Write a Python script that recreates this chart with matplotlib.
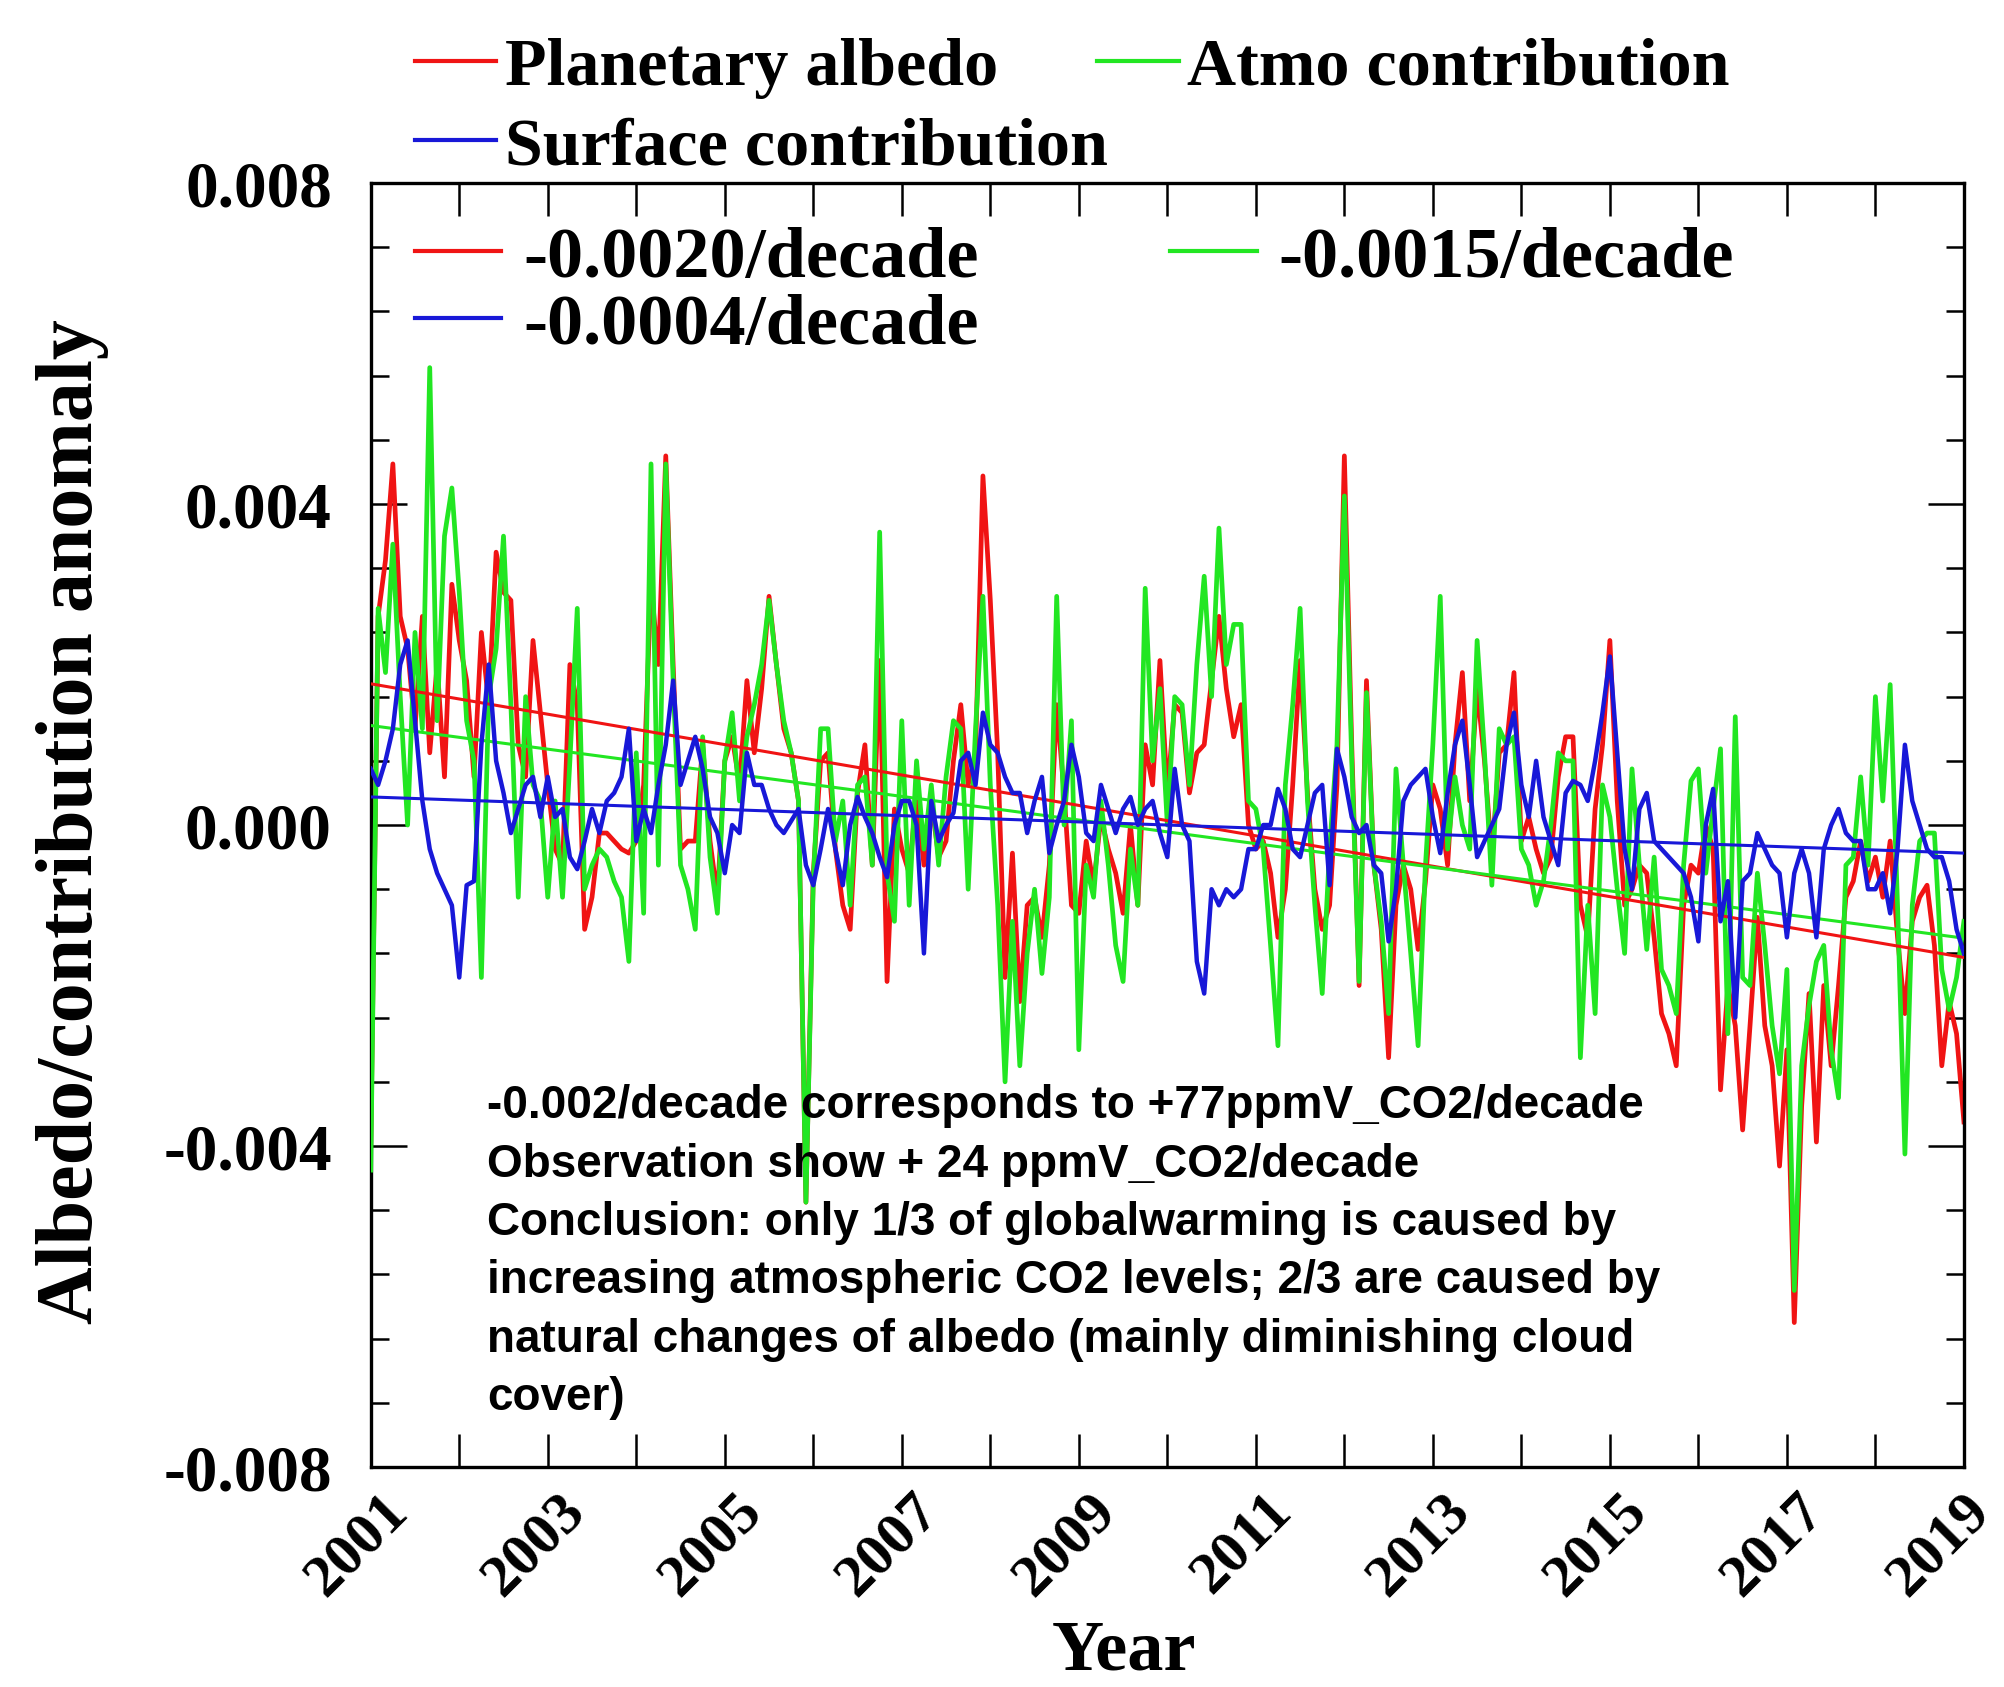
import numpy as np
import matplotlib
matplotlib.use('Agg')
import matplotlib.pyplot as plt
from matplotlib.ticker import MultipleLocator, FormatStrFormatter
from matplotlib.transforms import ScaledTranslation

# monthly anomalies, Jan 2001 .. Jan 2019, in units of 0.001
planetary = [
    -4.0, 2.6, 3.3, 4.5, 2.6, 2.2, 1.2, 2.6, 0.9, 2.0, 0.6, 3.0, 2.3, 1.8, 0.6, 2.4, 1.5, 3.4, 2.9, 2.8,
    1.0, 0.6, 2.3, 1.4, 0.5, -0.3, -0.5, 2.0, 1.5, -1.3,
    -0.9, -0.1, -0.1, -0.2, -0.3, -0.35, -0.2, 0.5, 3.0, 2.0, 4.6, 2.0, -0.3, -0.2, -0.2, 1.0, -0.2, -0.9,
    0.8, 1.1, 0.5, 1.8, 0.9, 1.7, 2.85, 2.0, 1.2, 0.9, 0.3, -4.7, -0.6, 0.8, 0.9,
    -0.3, -1.0, -1.3, 0.4, 1.0, -0.5, 2.05, -1.95, 0.2, -0.3, -0.6, 0.4, -0.5, 0.3, -0.4, -0.2, 0.8, 1.5,
    0.5, 0.9, 4.35, 2.8, 0.9, -1.9, -0.35, -2.2, -1.0, -0.9, -1.4, -0.5,
    1.5, 0.4, -1.0, -1.1, -0.2, -0.75, 0.1, -0.3, -0.6, -1.1, 0.0, -1.0, 1.0, 0.5, 2.05, 0.4, 1.5, 1.4,
    0.4, 0.9, 1.0, 1.8, 2.6, 1.7, 1.1, 1.5, 0.0, -0.3, -0.2, -0.6, -1.4, -0.8,
    0.5, 2.05, 0.4, -0.8, -1.3, -1.0, 0.5, 4.6, 1.0, -2.0, 1.8, -0.5, -1.3, -2.9, -1.0, -0.5, -0.8, -1.55,
    -0.7, 0.5, 0.2, -0.5, 1.0, 1.9, 0.3, 1.7, 0.8, -0.4, 0.9, 1.0, 1.9,
    -0.2, 0.1, -0.3, -0.6, -0.4, 0.6, 1.1, 1.1, -1.0, -1.4, 0.2, 1.0, 2.3, 0.3, -1.0, -0.8, -0.5, -0.6,
    -1.4, -2.35, -2.6, -3.0, -1.0, -0.5, -0.6, 0.0, -0.3, -3.3, -2.0, -2.5, -3.8,
    -2.5, -1.15, -2.5, -3.0, -4.25, -2.8, -6.2, -3.5, -2.1, -3.95, -2.0, -3.0, -2.0, -0.9, -0.7, -0.2,
    -0.7, -0.4, -0.9, -0.2, -1.4, -2.35, -1.2, -0.9, -0.75, -1.5, -3.0, -2.2, -2.6, -3.7,
]
atmo = [
    -4.3, 2.7, 1.9, 3.5, 1.6, 0.0, 2.4, 1.2, 5.7, 1.3, 3.6, 4.2, 2.9, 1.3, 0.8, -1.9, 1.6, 2.2, 3.6, 1.5,
    -0.9, 1.6, 0.5, 0.3, -0.9, 0.3, -0.9, 0.8, 2.7, -0.8,
    -0.5, -0.3, -0.4, -0.7, -0.9, -1.7, 0.9, -1.1, 4.5, -0.5, 4.5, 1.8, -0.5, -0.8, -1.3, 1.1, -0.4, -1.1,
    0.8, 1.4, 0.3, 1.1, 1.5, 2.0, 2.8, 2.0, 1.3, 0.9, 0.3, -4.7, -0.7, 1.2, 1.2,
    -0.2, 0.3, -1.0, 0.5, 0.6, -0.5, 3.65, -0.6, -1.2, 1.3, -1.0, 0.8, -0.3, 0.5, -0.5, 0.6, 1.3, 1.2,
    -0.8, 1.2, 2.85, 0.5, -1.0, -3.2, -1.2, -3.0, -1.6, -0.8, -1.85, -0.9,
    2.85, 0.0, 1.3, -2.8, -0.5, -0.9, 0.3, -0.5, -1.5, -1.95, -0.3, -1.0, 2.95, 0.8, 1.7, 0.0, 1.6, 1.5,
    0.5, 2.0, 3.1, 1.6, 3.7, 2.0, 2.5, 2.5, 0.3, 0.2, -0.3, -1.5, -2.75, 0.5,
    1.5, 2.7, 0.3, -1.0, -2.1, -0.3, 1.0, 4.1, 0.8, -1.95, 1.65, -0.5, -1.2, -2.35, 0.7, -0.5, -1.6, -2.75,
    -0.5, 1.0, 2.85, -0.3, 0.6, 0.0, -0.3, 2.3, 0.9, -0.75, 1.2, 1.0, 1.1,
    -0.3, -0.5, -1.0, -0.7, 0.0, 0.9, 0.8, 0.8, -2.9, -1.0, -2.35, 0.5, 0.1, -0.8, -1.6, 0.7, -0.5, -1.55,
    -0.4, -1.8, -2.0, -2.35, -0.5, 0.55, 0.7, -0.6, 0.2, 0.95, -2.6, 1.35, -1.9,
    -2.0, -0.6, -1.5, -2.5, -3.1, -1.8, -5.8, -3.0, -2.25, -1.7, -1.5, -2.8, -3.4, -0.5, -0.4, 0.6,
    -0.5, 1.6, 0.3, 1.75, -1.0, -4.1, -1.0, -0.2, -0.1, -0.1, -1.8, -2.3, -1.9, -1.2,
]
surface = [
    0.7, 0.5, 0.8, 1.2, 2.0, 2.3, 1.3, 0.3, -0.3, -0.6, -0.8, -1.0, -1.9, -0.75, -0.7, 1.0, 2.0, 0.8, 0.4,
    -0.1, 0.2, 0.5, 0.6, 0.1, 0.6, 0.1, 0.2, -0.4, -0.55, -0.2,
    0.2, -0.1, 0.3, 0.4, 0.6, 1.2, -0.2, 0.2, -0.1, 0.5, 1.0, 1.8, 0.5, 0.8, 1.1, 0.7, 0.1, -0.1, -0.6,
    0.0, -0.1, 0.9, 0.5, 0.5, 0.2, 0.0, -0.1, 0.05, 0.2, -0.5, -0.75, -0.3, 0.2,
    -0.3, -0.75, 0.0, 0.35, 0.1, -0.1, -0.4, -0.65, 0.0, 0.3, 0.3, 0.0, -1.6, 0.3, -0.2, 0.0, 0.15, 0.8,
    0.9, 0.5, 1.4, 1.0, 0.9, 0.6, 0.4, 0.4, -0.1, 0.3, 0.6, -0.35,
    0.0, 0.3, 1.0, 0.6, -0.1, -0.2, 0.5, 0.2, -0.1, 0.2, 0.35, 0.0, 0.2, 0.3, -0.1, -0.4, 0.7, 0.0, -0.2,
    -1.7, -2.1, -0.8, -1.0, -0.8, -0.9, -0.8, -0.3, -0.3, 0.0, 0.0, 0.45, 0.2,
    -0.3, -0.4, 0.0, 0.4, 0.5, -0.75, 0.95, 0.6, 0.1, -0.1, 0.0, -0.5, -0.6, -1.45, -0.8, 0.3, 0.5, 0.6,
    0.7, 0.1, -0.35, 0.4, 1.0, 1.3, 0.5, -0.4, -0.2, 0.0, 0.2, 1.0, 1.4,
    0.5, 0.1, 0.8, 0.1, -0.2, -0.5, 0.4, 0.55, 0.5, 0.3, 0.8, 1.4, 2.1, 0.9, -0.3, -0.8, 0.2, 0.4, -0.2,
    -0.3, -0.4, -0.5, -0.6, -0.9, -1.45, 0.0, 0.45, -1.2, -0.7, -2.4, -0.7,
    -0.6, -0.1, -0.3, -0.5, -0.6, -1.4, -0.6, -0.3, -0.6, -1.4, -0.3, 0.0, 0.2, -0.1, -0.2, -0.2, -0.8,
    -0.8, -0.6, -1.1, -0.3, 1.0, 0.3, 0.0, -0.3, -0.4, -0.4, -0.7, -1.3, -1.6,
]

# linear trends: value at 2001 and at 2019 (x 0.001)
trend_years = [2001, 2019]
planetary_trend = [1.76, -1.65]
atmo_trend = [1.24, -1.41]
surface_trend = [0.35, -0.35]

legend_labels = ['Planetary albedo', 'Atmo contribution', 'Surface contribution']
trend_labels = ['-0.0020/decade', '-0.0015/decade', '-0.0004/decade']
year_ticks = [2001, 2003, 2005, 2007, 2009, 2011, 2013, 2015, 2017, 2019]

note = ('-0.002/decade corresponds to +77ppmV_CO2/decade\n'
        'Observation show + 24 ppmV_CO2/decade\n'
        'Conclusion: only 1/3 of globalwarming is caused by\n'
        'increasing atmospheric CO2 levels; 2/3 are caused by\n'
        'natural changes of albedo (mainly diminishing cloud\n'
        'cover)')

RED = '#f01414'
GREEN = '#22e622'
BLUE = '#1818d8'

plt.rcParams['font.family'] = 'Liberation Serif'
plt.rcParams['font.weight'] = 'bold'
plt.rcParams['axes.labelweight'] = 'bold'
plt.rcParams['axes.unicode_minus'] = False

years = 2001 + np.arange(len(planetary)) / 12.0
scale = 0.001

fig = plt.figure(figsize=(20.04, 16.87), dpi=100)
ax = fig.add_axes([0.185, 0.1304, 0.795, 0.7611])

l_red, = ax.plot(years, np.array(planetary) * scale, color=RED, lw=3.4, zorder=2)
l_green, = ax.plot(years, np.array(atmo) * scale, color=GREEN, lw=3.4, zorder=3)
l_blue, = ax.plot(years, np.array(surface) * scale, color=BLUE, lw=3.2, zorder=5)

t_red, = ax.plot(trend_years, np.array(planetary_trend) * scale, color=RED, lw=2.2, zorder=4)
t_green, = ax.plot(trend_years, np.array(atmo_trend) * scale, color=GREEN, lw=2.2, zorder=4)
t_blue, = ax.plot(trend_years, np.array(surface_trend) * scale, color=BLUE, lw=2.2, zorder=6)

ax.set_xlim(2001, 2019)
ax.set_ylim(-0.008, 0.008)

ax.set_xticks(year_ticks)
ax.xaxis.set_minor_locator(MultipleLocator(1))
ax.yaxis.set_major_locator(MultipleLocator(0.004))
ax.yaxis.set_minor_locator(MultipleLocator(0.0008))
ax.yaxis.set_major_formatter(FormatStrFormatter('%.3f'))

ax.tick_params(axis='x', which='both', direction='in', top=True, length=24, width=1.8,
               labelsize=43, pad=12)
ax.tick_params(axis='y', which='major', direction='in', right=True, length=26, width=1.8,
               labelsize=47, pad=28)
ax.tick_params(axis='y', which='minor', direction='in', right=True, length=13, width=1.8)
xlabels = ax.get_xticklabels()
for i, lab in enumerate(xlabels):
    dx = -0.24 if i == len(xlabels) - 1 else -0.13
    lab.set_rotation(45)
    lab.set_ha('center')
    lab.set_va('top')
    lab.set_transform(lab.get_transform() + ScaledTranslation(dx, 0, fig.dpi_scale_trans))
for sp in ax.spines.values():
    sp.set_linewidth(2.4)

ax.set_xlabel('Year', fontsize=52)
ax.xaxis.set_label_coords(0.473, -0.119)
ax.set_ylabel('Albedo/contribution anomaly', fontsize=57.5)
ax.yaxis.set_label_coords(-0.164, 0.503)

# series legend above the axes
leg1 = ax.legend([l_red, l_blue, l_green],
                 [legend_labels[0], legend_labels[2], legend_labels[1]],
                 ncol=2, loc='upper left', bbox_to_anchor=(0.207, 0.978),
                 bbox_transform=fig.transFigure, frameon=False, fontsize=49,
                 handlelength=1.2, handletextpad=0.12, columnspacing=-0.15,
                 labelspacing=0.26, borderpad=0, borderaxespad=0)
ax.add_artist(leg1)

# trend legend inside
leg2 = ax.legend([t_red, t_blue, t_green], [trend_labels[0], trend_labels[2], trend_labels[1]],
                 ncol=2, loc='upper left', bbox_to_anchor=(0.207, 0.866),
                 bbox_transform=fig.transFigure, frameon=False, fontsize=52,
                 handlelength=1.2, handletextpad=0.3, columnspacing=2.65,
                 labelspacing=0.02, borderpad=0, borderaxespad=0)
for h in leg1.legend_handles + leg2.legend_handles:
    h.set_linewidth(3.0)

ax.text(0.073, 0.298, note, transform=ax.transAxes, ha='left', va='top',
        fontsize=33, family='Liberation Sans', fontweight='bold', linespacing=1.42, zorder=7)

fig.savefig('out.png', dpi=100)
